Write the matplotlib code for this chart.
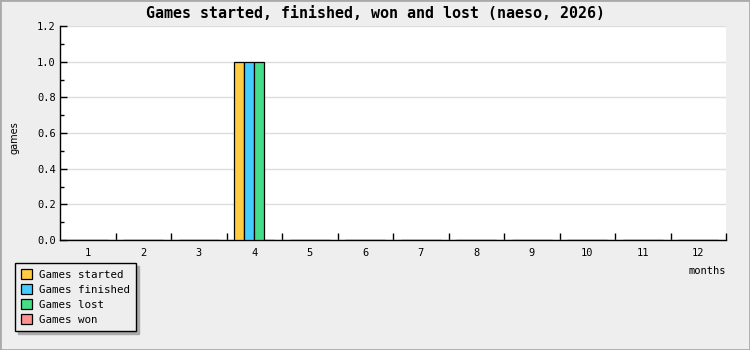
import numpy as np
import matplotlib
matplotlib.use("Agg")
import matplotlib.pyplot as plt
from matplotlib.patches import Patch, Rectangle

months = list(range(1, 13))
started = [0, 0, 0, 1, 0, 0, 0, 0, 0, 0, 0, 0]
finished = [0, 0, 0, 1, 0, 0, 0, 0, 0, 0, 0, 0]
lost = [0, 0, 0, 1, 0, 0, 0, 0, 0, 0, 0, 0]
won = [0, 0, 0, 0, 0, 0, 0, 0, 0, 0, 0, 0]

series = [("Games started", started, "#ffcc44"),
          ("Games finished", finished, "#44ccff"),
          ("Games lost", lost, "#44dd88"),
          ("Games won", won, "#ff9090")]

plt.rcParams["font.family"] = "DejaVu Sans Mono"
BG = "#eeeeee"

fig = plt.figure(figsize=(7.5, 3.5), dpi=100, facecolor=BG)
ax = fig.add_axes([60 / 750, 1 - 240 / 350, 666 / 750, 214 / 350])
ax.set_facecolor("white")

x = np.array(months)
w = 0.18
for i, (name, vals, col) in enumerate(series):
    ax.bar(x + (i - 1.5) * w, vals, width=w, color=col, edgecolor="black",
           linewidth=0.9, zorder=3)

ax.set_xlim(0.5, 12.5)
ax.set_ylim(0, 1.2)
ax.set_yticks(np.arange(0, 1.21, 0.2))
ax.set_yticks(np.arange(0.1, 1.2, 0.2), minor=True)
ax.yaxis.set_major_formatter(matplotlib.ticker.FormatStrFormatter("%.1f"))
ax.set_xticks(months)
ax.set_xticks(np.arange(1.5, 12.6, 1), minor=True)
ax.tick_params(axis="x", which="major", length=0, pad=6, labelsize=7.5)
ax.tick_params(axis="x", which="minor", length=5, direction="in", width=1)
ax.tick_params(axis="y", which="major", length=5, direction="in", width=1,
               labelsize=7.5, pad=3)
ax.tick_params(axis="y", which="minor", length=3, direction="in", width=1)
ax.grid(axis="y", color="#dddddd", linewidth=1, zorder=0)
ax.set_axisbelow(True)
for s in ("top", "right"):
    ax.spines[s].set_visible(False)
for s in ("left", "bottom"):
    ax.spines[s].set_linewidth(1)

fig.text(0.5, 1 - 13 / 350, "Games started, finished, won and lost (naeso, 2026)",
         ha="center", va="center", fontsize=10.8, fontweight="semibold")
fig.text(14 / 750, 1 - 138 / 350, "games", rotation=90, ha="center",
         va="center", fontsize=7, family="DejaVu Sans")
fig.text(726 / 750, 1 - 271 / 350, "months", ha="right", va="center",
         fontsize=7.5)

handles = [Patch(facecolor=c, edgecolor="black", linewidth=0.9)
           for _, _, c in series]
leg = fig.legend(handles, [n for n, _, _ in series], loc="upper left",
                 bbox_to_anchor=(15 / 750, 1 - 263 / 350), fontsize=7.8,
                 frameon=True, fancybox=False, edgecolor="black",
                 facecolor=BG, framealpha=1, handlelength=1.0,
                 handleheight=1.0, handletextpad=0.7, labelspacing=0.42,
                 borderpad=0.55, borderaxespad=0,
                 shadow={"color": "#aaaaaa", "alpha": 1})
leg.get_frame().set_linewidth(1)

fig.patches.append(Rectangle((0, 0), 1, 1, transform=fig.transFigure,
                             fill=False, edgecolor="#aaaaaa", linewidth=2))

fig.savefig("out.png", dpi=100, facecolor=BG)
